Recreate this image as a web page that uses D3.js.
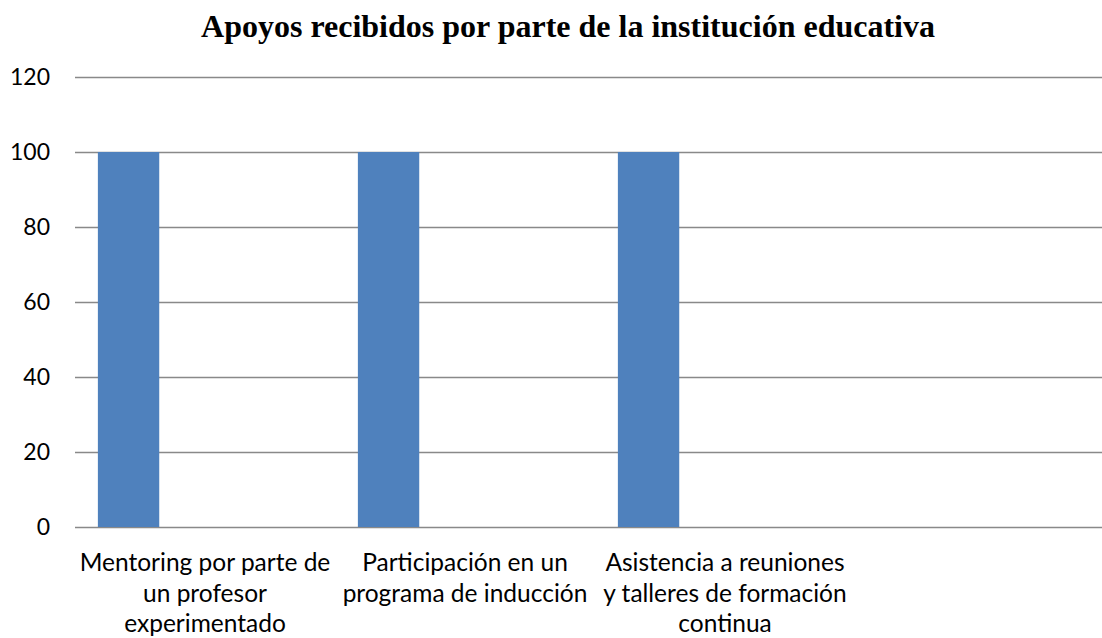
<!DOCTYPE html>
<html>
<head>
<meta charset="utf-8">
<script src="https://cdn.jsdelivr.net/npm/d3@7"></script>
<style>
  html, body { margin: 0; padding: 0; background: #fff; overflow: hidden; }
</style>
</head>
<body>
<div id="chart"></div>
<script>
// Chart data
const categories = [
  ['Mentoring por parte de', 'un profesor', 'experimentado'],
  ['Participación en un', 'programa de inducción'],
  ['Asistencia a reuniones', 'y talleres de formación', 'continua'],
  []
];
const values = [100, 100, 100, null];
const yTicks = [0, 20, 40, 60, 80, 100, 120];
const title = 'Apoyos recibidos por parte de la institución educativa';

const width = 1102, height = 638;
const margin = { top: 77, left: 75, bottom: 111 };
const plotRight = 1115; // plot area runs past the right edge

const svg = d3.select('#chart').append('svg')
  .attr('width', width)
  .attr('height', height);

const x = d3.scaleBand()
  .domain(d3.range(categories.length))
  .range([margin.left, plotRight])
  .paddingInner(0)
  .paddingOuter(0);

const y = d3.scaleLinear()
  .domain([0, 120])
  .range([height - margin.bottom, margin.top]);

// gridlines
svg.append('g')
  .selectAll('line')
  .data(yTicks)
  .join('line')
  .attr('x1', margin.left)
  .attr('x2', plotRight)
  .attr('y1', d => Math.round(y(d)) + 0.5)
  .attr('y2', d => Math.round(y(d)) + 0.5)
  .attr('stroke', '#898989')
  .attr('stroke-width', 1.3);

// y tick labels
svg.append('g')
  .selectAll('text')
  .data(yTicks)
  .join('text')
  .attr('x', 50)
  .attr('y', d => y(d))
  .attr('dy', '0.35em')
  .attr('text-anchor', 'end')
  .attr('font-family', 'Lato, "Open Sans", sans-serif')
  .attr('font-size', 23)
  .attr('fill', '#000')
  .text(d => d);

// bars
const bw = x.bandwidth();
svg.append('g')
  .selectAll('rect')
  .data(values.map((v, i) => ({ v, i })).filter(d => d.v != null))
  .join('rect')
  .attr('x', d => x(d.i) + bw * 0.088)
  .attr('width', bw * 0.236)
  .attr('y', d => y(d.v))
  .attr('height', d => y(0) - y(d.v))
  .attr('fill', '#4F81BD');

// category labels
const labels = svg.append('g')
  .selectAll('text')
  .data(categories)
  .join('text')
  .attr('text-anchor', 'middle')
  .attr('font-family', 'Lato, "Open Sans", sans-serif')
  .attr('font-size', 24.5)
  .attr('fill', '#000');

labels.each(function (lines, i) {
  const t = d3.select(this);
  lines.forEach((line, j) => {
    t.append('tspan')
      .attr('x', x(i) + bw / 2)
      .attr('y', 571 + j * 30.5)
      .text(line);
  });
});

// title
svg.append('text')
  .attr('x', 568)
  .attr('y', 37)
  .attr('text-anchor', 'middle')
  .attr('font-family', '"Liberation Serif", "Times New Roman", serif')
  .attr('font-weight', 700)
  .attr('font-size', 32)
  .attr('fill', '#000')
  .text(title);
</script>
</body>
</html>
